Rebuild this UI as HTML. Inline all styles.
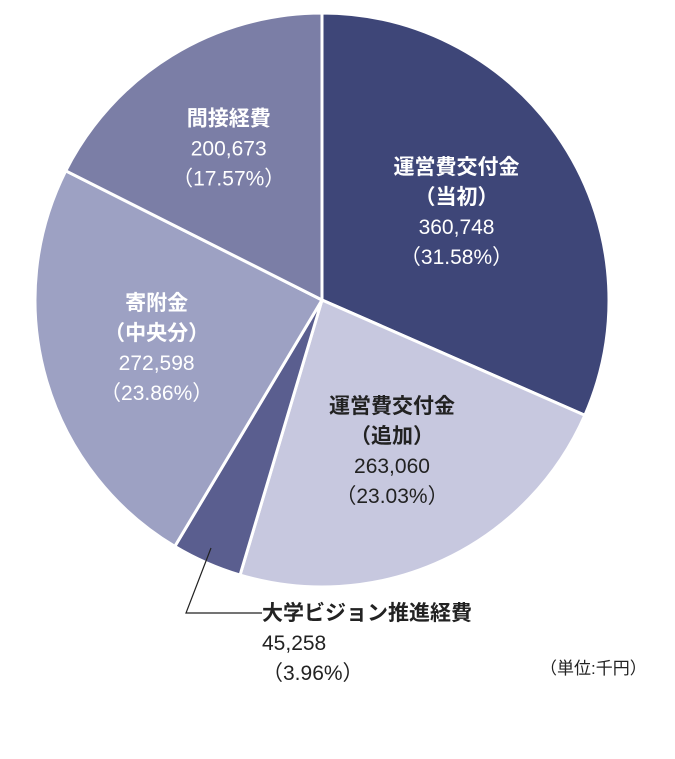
<!DOCTYPE html>
<html><head><meta charset="utf-8"><style>
body{margin:0;background:#fff;}
svg{display:block;font-family:"Liberation Sans","Noto Sans CJK JP",sans-serif;}
</style></head><body>
<svg id="chart" width="675" height="759" viewBox="0 0 675 759">
<g id="slices"></g>
<g id="labels"></g>
<polyline points="211,548 186,613 262,613" fill="none" stroke="#222" stroke-width="1.2"/>
<text x="540" y="674" font-size="17" fill="#222">（単位:千円）</text>
</svg>
<script>
const categories=["運営費交付金（当初）","運営費交付金（追加）","大学ビジョン推進経費","寄附金（中央分）","間接経費"];
const values=[360748,263060,45258,272598,200673];
const percents=["31.58%","23.03%","3.96%","23.86%","17.57%"];
const valueLabels=["360,748","263,060","45,258","272,598","200,673"];
const colors=["#3e4678","#c7c8df","#5a5e8f","#9da1c3","#7b7ea6"];
const labelLines=[["運営費交付金","（当初）"],["運営費交付金","（追加）"],["大学ビジョン推進経費"],["寄附金","（中央分）"],["間接経費"]];
const cx=322,cy=300,R=287;
const NS="http://www.w3.org/2000/svg";
const total=values.reduce((a,b)=>a+b,0);
const gS=document.getElementById('slices'),gL=document.getElementById('labels');
let acc=0;
function pt(a,r){return [cx+r*Math.sin(a),cy-r*Math.cos(a)];}
values.forEach((v,i)=>{
  const a0=acc/total*2*Math.PI;acc+=v;const a1=acc/total*2*Math.PI;
  const p0=pt(a0,R),p1=pt(a1,R);
  const p=document.createElementNS(NS,'path');
  p.setAttribute('d',`M${cx},${cy}L${p0[0]},${p0[1]}A${R},${R} 0 ${a1-a0>Math.PI?1:0} 1 ${p1[0]},${p1[1]}Z`);
  p.setAttribute('fill',colors[i]);p.setAttribute('stroke','#fff');p.setAttribute('stroke-width','3');
  
  
  gS.appendChild(p);
  const lines=labelLines[i].concat([valueLabels[i],"（"+percents[i]+"）"]);
  const mid=(a0+a1)/2;
  let x,y,anchor='middle',fill=(i===1)?'#222':'#fff';
  if(i===2){x=262;y=620;anchor='start';fill='#222';}
  else{const rr=[0.56,0.58,0,0.6,0.62][i];const q=pt(mid,R*rr);x=q[0];y=q[1]-(lines.length-1)*15+7;}
  const t=document.createElementNS(NS,'text');
  
  
  t.setAttribute('text-anchor',anchor);t.setAttribute('fill',fill);t.setAttribute('font-size','21');
  lines.forEach((s,k)=>{const ts=document.createElementNS(NS,'tspan');ts.setAttribute('x',x);ts.setAttribute('y',y+k*30);if(k<labelLines[i].length)ts.setAttribute('font-weight','bold');ts.textContent=s;t.appendChild(ts);});
  gL.appendChild(t);
});
</script>
</body></html>
